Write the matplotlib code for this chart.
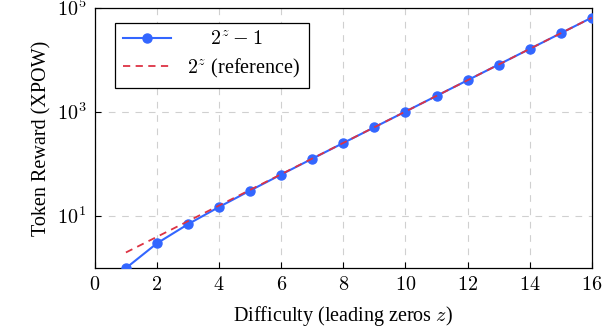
import numpy as np
import matplotlib
matplotlib.use("Agg")
import matplotlib.pyplot as plt
from matplotlib.ticker import FuncFormatter, FixedLocator, NullLocator

plt.rcParams['font.family'] = ['Liberation Serif', 'DejaVu Serif']
plt.rcParams['mathtext.fontset'] = 'cm'

# difficulty (leading zeros) and rewards
z = [1, 2, 3, 4, 5, 6, 7, 8, 9, 10, 11, 12, 13, 14, 15, 16]
reward = [1, 3, 7, 15, 31, 63, 127, 255, 511, 1023, 2047, 4095, 8191, 16383, 32767, 65535]
reference = [2, 4, 8, 16, 32, 64, 128, 256, 512, 1024, 2048, 4096, 8192, 16384, 32768, 65536]

x_ticks = [0, 2, 4, 6, 8, 10, 12, 14, 16]
y_ticks = [10, 1000, 100000]

fig = plt.figure(figsize=(6.12, 3.36), dpi=100)
ax = fig.add_axes([0.155, 0.202, 0.812, 0.774])

ax.plot(z, reward, color='#3366ff', lw=1.5, marker='o', ms=6.5, label=r'$\quad\ 2^z - 1$', zorder=3)
ax.plot(z, reference, color='#dd3344', lw=1.3, ls=(0, (4, 3)), label=r'$2^z$ (reference)', zorder=4)

ax.set_yscale('log')
ax.set_xlim(0, 16)
ax.set_ylim(1, 1e5)
ax.xaxis.set_major_locator(FixedLocator(x_ticks))
ax.yaxis.set_major_locator(FixedLocator(y_ticks))
ax.yaxis.set_minor_locator(NullLocator())
ax.xaxis.set_major_formatter(FuncFormatter(lambda v, p: r'$%d$' % v))
ax.yaxis.set_major_formatter(FuncFormatter(lambda v, p: r'$10^{%d}$' % round(np.log10(v))))
ax.tick_params(direction='in', length=4, width=0.8, labelsize=14.5, pad=6)
ax.grid(True, color='#d0d0d0', ls=(0, (6, 6)), lw=0.8)
for s in ax.spines.values():
    s.set_linewidth(0.9)

ax.set_xlabel(r'Difficulty (leading zeros $z$)', fontsize=14.5, labelpad=6)
ax.set_ylabel('Token Reward (XPOW)', fontsize=14.5, labelpad=4)

leg = ax.legend(loc='upper left', fontsize=14.5, frameon=True, fancybox=False,
                edgecolor='black', framealpha=1, borderpad=0.4, handlelength=2.4,
                labelspacing=0.3, bbox_to_anchor=(0.02, 0.98))
leg.get_frame().set_linewidth(0.9)

fig.savefig('out.png', dpi=100)
